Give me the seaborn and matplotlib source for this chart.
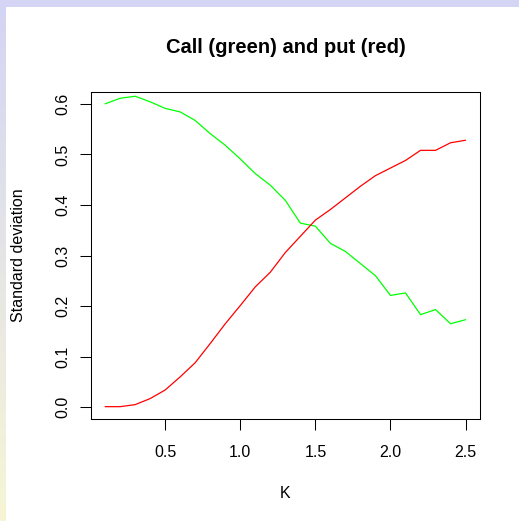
import numpy as np
import pandas as pd
import matplotlib
matplotlib.use('Agg')
import matplotlib.pyplot as plt
import seaborn as sns

# strike values
K = [0.1, 0.2, 0.3, 0.4, 0.5, 0.6, 0.7, 0.8, 0.9, 1.0, 1.1, 1.2, 1.3,
     1.4, 1.5, 1.6, 1.7, 1.8, 1.9, 2.0, 2.1, 2.2, 2.3, 2.4, 2.5]

# standard deviation of the call price (green)
sd_call = [0.600, 0.611, 0.615, 0.604, 0.591, 0.584, 0.567, 0.541, 0.518,
           0.491, 0.462, 0.439, 0.409, 0.364, 0.358, 0.324, 0.308, 0.284,
           0.260, 0.221, 0.226, 0.183, 0.193, 0.165, 0.173]

# standard deviation of the put price (red)
sd_put = [0.001, 0.001, 0.005, 0.017, 0.034, 0.060, 0.088, 0.126, 0.165,
          0.201, 0.238, 0.267, 0.306, 0.338, 0.370, 0.391, 0.414, 0.437,
          0.458, 0.473, 0.488, 0.508, 0.508, 0.523, 0.528]

df = pd.DataFrame({'K': K, 'call': sd_call, 'put': sd_put})

sns.set_style('ticks')
plt.rcParams['font.family'] = ['Liberation Sans', 'DejaVu Sans']
plt.rcParams['text.color'] = 'black'
plt.rcParams['xtick.color'] = 'black'
plt.rcParams['ytick.color'] = 'black'

W, H = 519, 521
fig = plt.figure(figsize=(W / 100, H / 100), dpi=100)
fig.patch.set_facecolor('white')

# page border: lavender strip at top, lavender-to-yellow strip on the left
bg = fig.add_axes([0, 0, 1, 1], zorder=-10)
bg.set_xlim(0, W)
bg.set_ylim(H, 0)
bg.axis('off')
top_col = np.array([212, 212, 245]) / 255
bot_col = np.array([246, 246, 214]) / 255
grad = np.linspace(0, 1, 200)[:, None, None]
strip = top_col * (1 - grad) + bot_col * grad
bg.imshow(strip, extent=(0, 6, H, 0), aspect='auto', interpolation='bilinear')
bg.add_patch(plt.Rectangle((0, 0), W, 7, color=top_col, lw=0))

# plot region
left, right, top, bottom = 90.7, 480.0, 91.7, 419.3
ax = fig.add_axes([left / W, 1 - bottom / H, (right - left) / W, (bottom - top) / H])

sns.lineplot(data=df, x='K', y='call', color='#00ff00', lw=0.9, ax=ax)
sns.lineplot(data=df, x='K', y='put', color='#ff0000', lw=0.9, ax=ax)

# R style 4% padding
xr = max(K) - min(K)
ax.set_xlim(min(K) - 0.04 * xr, max(K) + 0.04 * xr)
ax.set_ylim(0 - 0.04 * 0.6, 0.6 + 0.04 * 0.6)
ax.set_xticks([0.5, 1.0, 1.5, 2.0, 2.5])
ax.set_yticks([0.0, 0.1, 0.2, 0.3, 0.4, 0.5, 0.6])
ax.set_xticklabels(['0.5', '1.0', '1.5', '2.0', '2.5'])
ax.set_yticklabels(['0.0', '0.1', '0.2', '0.3', '0.4', '0.5', '0.6'], rotation=90, va='center')
ax.tick_params(length=7.7, width=0.75, labelsize=11.5, color='black', labelcolor='black')
ax.tick_params(axis='x', pad=11)
ax.tick_params(axis='y', pad=7)
for s in ax.spines.values():
    s.set_color('black')
    s.set_linewidth(0.75)
ax.set_xlabel('')
ax.set_ylabel('')

fig.text(285.4 / W, 1 - 53 / H, 'Call (green) and put (red)', ha='center', va='baseline',
         fontsize=14.5, fontweight='bold', color='black')
fig.text(285.4 / W, 1 - 493 / H, 'K', ha='center', va='center', fontsize=11.5, color='black')
fig.text(19 / W, 1 - 255.5 / H, 'Standard deviation', ha='center', va='center',
         rotation=90, fontsize=11.5, color='black')

fig.savefig('out.png', dpi=100)
